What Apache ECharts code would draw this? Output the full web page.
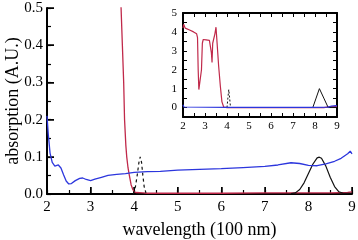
<!DOCTYPE html>
<html><head><meta charset="utf-8">
<script src="https://cdn.jsdelivr.net/npm/echarts@6/dist/echarts.min.js"></script>
<style>html,body{margin:0;padding:0;background:#fff}#c{width:358px;height:240px}</style>
</head><body><div id="c"></div>
<script>
// ---- main panel data ----
const xTicks = [2,3,4,5,6,7,8,9];
const yTicksMain = [0.0,0.1,0.2,0.3,0.4,0.5];
const blueX = [2.0,2.03,2.07,2.12,2.18,2.26,2.32,2.38,2.44,2.5,2.56,2.65,2.75,2.82,2.9,3.0,3.1,3.25,3.4,3.6,3.8,4.0,4.3,4.6,5.0,5.5,6.0,6.5,7.0,7.3,7.6,7.8,8.0,8.2,8.4,8.6,8.75,8.9,8.96,9.0];
const blueY = [0.21,0.16,0.11,0.085,0.075,0.078,0.07,0.052,0.035,0.027,0.028,0.036,0.042,0.043,0.039,0.036,0.04,0.045,0.05,0.053,0.055,0.058,0.06,0.061,0.064,0.066,0.068,0.071,0.074,0.078,0.084,0.082,0.077,0.076,0.081,0.088,0.096,0.108,0.115,0.108];
const redX = [3.68,3.70,3.73,3.76,3.78,3.81,3.83,3.86,3.89,3.93,3.97,4.0,4.05,4.2,4.3,5.0,6.0,7.0,8.0,8.5,8.9,9.0];
const redY = [0.6,0.5,0.4,0.3,0.2,0.13,0.1,0.07,0.05,0.025,0.012,0.006,0.004,0.003,0.002,0.002,0.002,0.003,0.003,0.003,0.004,0.006];
const blackX = [7.6,7.7,7.8,7.9,8.0,8.1,8.2,8.25,8.3,8.4,8.5,8.6,8.7,8.8,9.0];
const blackY = [0.001,0.003,0.012,0.03,0.055,0.08,0.097,0.099,0.096,0.075,0.045,0.02,0.006,0.002,0.002];
const dashX = [3.98,4.03,4.07,4.11,4.14,4.17,4.2,4.23,4.27];
const dashY = [0.0,0.02,0.05,0.085,0.1,0.085,0.05,0.02,0.003];
// ---- inset data ----
const yTicksInset = [0,1,2,3,4,5];
const inRedX = [2.0,2.03,2.1,2.3,2.48,2.62,2.66,2.69,2.72,2.76,2.8,2.84,2.88,2.92,3.05,3.2,3.26,3.29,3.32,3.35,3.4,3.45,3.5,3.55,3.62,3.7,3.77,3.85,4.0,6.0,8.4,8.7,9.0];
const inRedY = [4.2,4.4,4.2,4.1,4.0,3.9,3.7,2.0,0.95,0.9,0.95,2.0,3.4,3.6,3.58,3.55,3.5,2.9,2.38,3.4,3.5,3.9,4.25,3.4,2.2,1.1,0.3,0.03,0.0,0.0,0.0,0.05,0.05];
const inBlueX = [2.0,2.04,2.1,4.0,6.0,8.0,8.6,8.75,8.95,9.0];
const inBlueY = [0.15,0.03,0.01,0.01,0.01,0.01,0.02,0.08,0.1,0.08];
const inBlackX = [7.9,8.05,8.2,8.4,8.6,9.0];
const inBlackY = [0.0,0.5,1.0,0.5,0.0,0.0];
const inDashX = [4.0,4.04,4.08,4.12,4.16];
const inDashY = [0.0,0.5,0.95,0.5,0.0];

const zip = (xs, ys) => xs.map((x, i) => [x, ys[i]]);
const RED = '#c0294a', BLUE = '#2c36dd', BLK = '#111';
const F = 'Liberation Serif';
const line = () => ({show:true, onZero:false, lineStyle:{color:'#000', width:2}});
const tick = (len) => ({show:true, inside:true, length:len, lineStyle:{color:'#000'}});
const minor = (len) => ({show:true, splitNumber:2, length:len, lineStyle:{color:'#000'}});

const grids = [
  {left:47, top:8, width:305, height:186, outerBoundsMode:'none'},
  {left:183, top:13, width:154, height:104, outerBoundsMode:'none'}
];
const xAxes = [
  {type:'value', gridIndex:0, min:2, max:9, interval:1, splitLine:{show:false},
    axisLine:line(), axisTick:tick(7), minorTick:minor(4),
    name:'wavelength (100 nm)', nameLocation:'middle', nameGap:27,
    nameTextStyle:{fontFamily:F, fontSize:18, color:'#000'},
    axisLabel:{fontFamily:F, fontSize:15, color:'#000', margin:6}},
  {type:'value', gridIndex:1, min:2, max:9, interval:1, splitLine:{show:false},
    axisLine:line(), axisTick:tick(4), minorTick:minor(3),
    axisLabel:{fontFamily:F, fontSize:11, color:'#000', margin:4}},
  {type:'value', gridIndex:1, min:2, max:9, interval:1, position:'top', splitLine:{show:false},
    axisLine:line(), axisTick:tick(4), minorTick:minor(3), axisLabel:{show:false}}
];
const yAxes = [
  {type:'value', gridIndex:0, min:0, max:0.5, interval:0.1, splitLine:{show:false},
    axisLine:line(), axisTick:tick(7), minorTick:minor(4),
    axisLabel:{fontFamily:F, fontSize:15, color:'#000', margin:4, formatter:v=>v.toFixed(1)}},
  {type:'value', gridIndex:1, min:-0.5, max:5, interval:0.5, splitLine:{show:false},
    axisLine:line(), axisTick:tick(4),
    axisLabel:{fontFamily:F, fontSize:11, color:'#000', margin:6,
      formatter:v=>yTicksInset.includes(v)?String(v):''}},
  {type:'value', gridIndex:1, min:-0.5, max:5, interval:0.5, position:'right', splitLine:{show:false},
    axisLine:line(), axisTick:tick(4), axisLabel:{show:false}}
];

// inward tick marks also drawn as thin grids whose split lines act as ticks
function tickStrip(rect, dir, min, max, interval, width, extra){
  const g = grids.length;
  grids.push(Object.assign({outerBoundsMode:'none'}, rect));
  const marks = {type:'value', gridIndex:g, min:min, max:max, interval:interval,
    axisLine:{show:false}, axisTick:{show:false}, axisLabel:{show:false},
    splitLine:{show:true, showMinLine:true, showMaxLine:true, lineStyle:{color:'#000', width:width}}};
  const hidden = {type:'value', gridIndex:g, min:0, max:1, show:false, splitLine:{show:false}};
  if (dir === 'x') { xAxes.push(marks); yAxes.push(hidden); }
  else { yAxes.push(Object.assign(marks, extra || {})); xAxes.push(hidden); }
}
tickStrip({left:47, top:187, width:305, height:7}, 'x', 2, 9, 1, 1.5);
tickStrip({left:47, top:190, width:305, height:4}, 'x', 2, 9, 0.5, 1.2);
tickStrip({left:47, top:8, width:7, height:186}, 'y', 0, 0.5, 0.1, 1.5,
  {name:'absorption (A.U.)', nameLocation:'middle', nameGap:25, nameRotate:90, nameMoveOverlap:false,
   nameTextStyle:{fontFamily:F, fontSize:18, color:'#000'}});
tickStrip({left:47, top:8, width:4, height:186}, 'y', 0, 0.5, 0.05, 1.2);
tickStrip({left:183, top:113, width:154, height:4}, 'x', 2, 9, 0.5, 1);
tickStrip({left:183, top:13, width:154, height:4}, 'x', 2, 9, 0.5, 1);
tickStrip({left:183, top:13, width:4, height:104}, 'y', -0.5, 5, 0.5, 1);
tickStrip({left:333, top:13, width:4, height:104}, 'y', -0.5, 5, 0.5, 1);

const option = {
  animation:false,
  grid:grids, xAxis:xAxes, yAxis:yAxes,
  series:[
    {type:'line', xAxisIndex:0, yAxisIndex:0, data:zip(redX, redY), showSymbol:false, clip:true, lineStyle:{color:RED, width:1.3}},
    {type:'line', xAxisIndex:0, yAxisIndex:0, data:zip(blackX, blackY), showSymbol:false, lineStyle:{color:BLK, width:1.2}},
    {type:'line', xAxisIndex:0, yAxisIndex:0, data:zip(dashX, dashY), showSymbol:false, lineStyle:{color:BLK, width:1.2, type:[3,3]}},
    {type:'line', xAxisIndex:0, yAxisIndex:0, data:zip(blueX, blueY), showSymbol:false, lineStyle:{color:BLUE, width:1.3}},
    {type:'line', xAxisIndex:1, yAxisIndex:1, data:zip(inRedX, inRedY), showSymbol:false, lineStyle:{color:RED, width:1.2}},
    {type:'line', xAxisIndex:1, yAxisIndex:1, data:zip(inBlackX, inBlackY), showSymbol:false, lineStyle:{color:BLK, width:1}},
    {type:'line', xAxisIndex:1, yAxisIndex:1, data:zip(inDashX, inDashY), showSymbol:false, lineStyle:{color:BLK, width:1, type:[2,2]}},
    {type:'line', xAxisIndex:1, yAxisIndex:1, data:zip(inBlueX, inBlueY), showSymbol:false, lineStyle:{color:BLUE, width:1.2}}
  ]
};
echarts.init(document.getElementById('c')).setOption(option);
</script></body></html>
